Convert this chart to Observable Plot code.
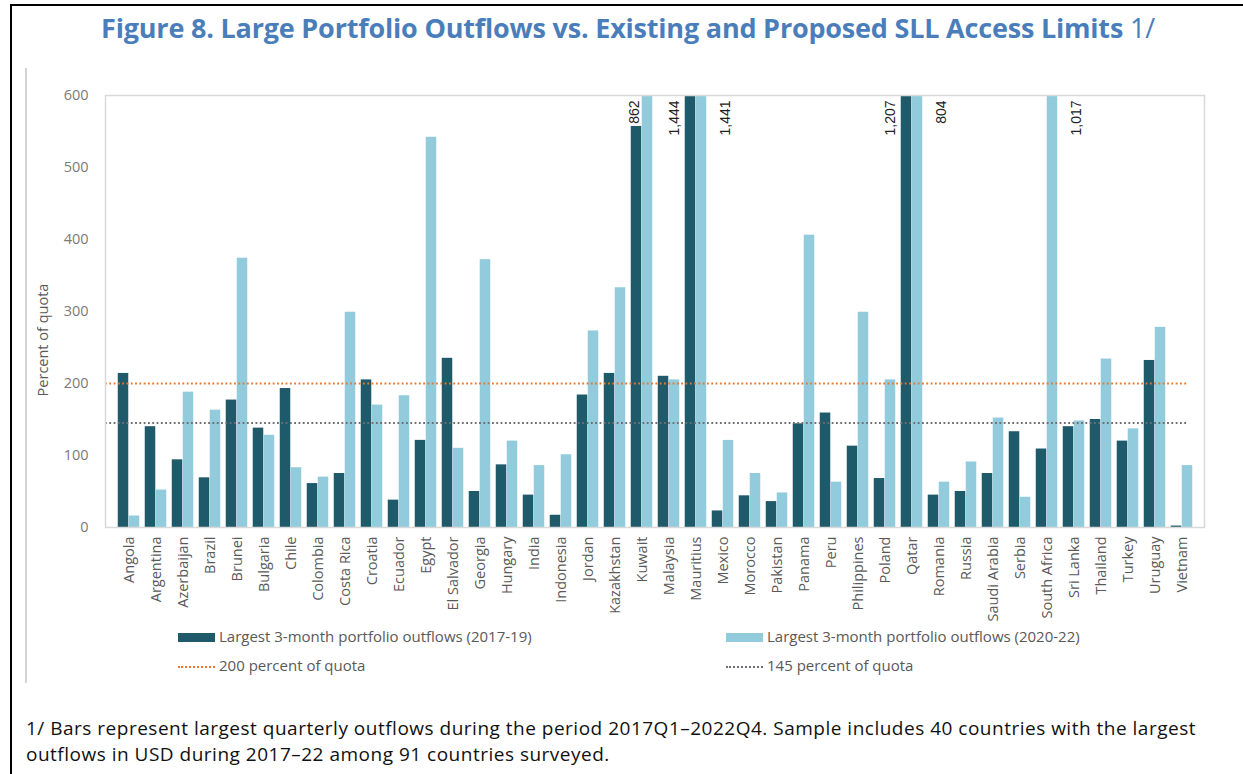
<!DOCTYPE html>
<html>
<head>
<meta charset="utf-8">
<script src="https://cdn.jsdelivr.net/npm/d3@7"></script>
<script src="https://cdn.jsdelivr.net/npm/@observablehq/plot@0.6"></script>
<style>
  html, body { margin: 0; padding: 0; background: #fff; }
  #page { position: relative; width: 1243px; height: 774px; overflow: hidden; font-family: "Open Sans", sans-serif; }
  .frameTop { position: absolute; left: 10px; top: 4px; width: 1240px; height: 2px; background: #000; }
  .frameLeft { position: absolute; left: 10px; top: 4px; width: 2px; height: 780px; background: #000; }
  .grayLeft { position: absolute; left: 25px; top: 68px; width: 2px; height: 615px; background: #d4d4d4; }
  #title { position: absolute; left: 0; width: 1256px; top: 9px; text-align: center; font-family: "Open Sans", sans-serif; font-weight: 700; font-size: 27px; color: #4a7ebb; white-space: nowrap; letter-spacing: -0.2px; }
  #title span { font-weight: 400; }
  #chart { position: absolute; left: 0; top: 0; }
  #ylabel { position: absolute; left: 42px; top: 340px; transform: translate(-50%, -50%) rotate(-90deg); font-size: 14.5px; color: #595959; white-space: nowrap; }
  .leg { position: absolute; font-size: 15px; color: #595959; white-space: nowrap; line-height: 1; }
  .sw { position: absolute; }
  #note { position: absolute; left: 26px; top: 715px; font-size: 19px; letter-spacing: 0.5px; color: #111; line-height: 26px; white-space: nowrap; }
</style>
</head>
<body>
<div id="page">
  <div class="frameTop"></div>
  <div class="frameLeft"></div>
  <div class="grayLeft"></div>
  <div id="title"></div>
  <div id="chart"></div>
  <div id="ylabel"></div>
  <div id="legend"></div>
  <div id="note"></div>
</div>
<script>
// ---------- data ----------
const titleText = "Figure 8. Large Portfolio Outflows vs. Existing and Proposed SLL Access Limits";
const titleNote = "1/";
const countries = ["Angola","Argentina","Azerbaijan","Brazil","Brunei","Bulgaria","Chile","Colombia","Costa Rica","Croatia",
  "Ecuador","Egypt","El Salvador","Georgia","Hungary","India","Indonesia","Jordan","Kazakhstan","Kuwait",
  "Malaysia","Mauritius","Mexico","Morocco","Pakistan","Panama","Peru","Philippines","Poland","Qatar",
  "Romania","Russia","Saudi Arabia","Serbia","South Africa","Sri Lanka","Thailand","Turkey","Uruguay","Vietnam"];
const outflows2017_19 = [214,140,94,69,177,138,193,61,75,205, 38,121,235,50,87,45,17,184,214,557,
  210,1444,23,44,36,144,159,113,68,1207, 45,50,75,133,109,140,150,120,232,2];
const outflows2020_22 = [16,52,188,163,374,128,83,70,299,170, 183,542,110,372,120,86,101,273,333,862,
  205,1441,121,75,48,406,63,299,205,804, 63,91,152,42,1017,148,234,137,278,86];
const seriesNames = ["Largest 3-month portfolio outflows (2017-19)", "Largest 3-month portfolio outflows (2020-22)"];
const limitValues = [200, 145];
const limitNames = ["200 percent of quota", "145 percent of quota"];
const yTicks = [0, 100, 200, 300, 400, 500, 600];
const yLabel = "Percent of quota";
const noteLines = [
  "1/ Bars represent largest quarterly outflows during the period 2017Q1\u20132022Q4. Sample includes 40 countries with the largest",
  "outflows in USD during 2017\u201322 among 91 countries surveyed."
];

// ---------- styles ----------
const darkColor = "#1f5a6a";
const lightColor = "#92cbdc";
const limitColors = ["#e8762d", "#6b6f73"];
const yMax = 600;

// ---------- build ----------
document.getElementById("title").innerHTML = titleText + " <span>" + titleNote + "</span>";
document.getElementById("ylabel").textContent = yLabel;

const rows = countries.map((c, i) => ({country: c, early: outflows2017_19[i], late: outflows2020_22[i]}));
const fmt = d3.format(",");
// labels for bars that run past the top of the axis
const earlyLabels = rows.filter(r => r.early > yMax).map(r => ({country: r.country, text: fmt(r.early)}));
// light-bar labels: placed above the dark bar when it is tall but still below the top, else to the right
const lateOver = rows.filter(r => r.late > yMax && r.early > 500 && r.early <= yMax).map(r => ({country: r.country, text: fmt(r.late)}));
const lateRight = rows.filter(r => r.late > yMax && !(r.early > 500 && r.early <= yMax)).map(r => ({country: r.country, text: fmt(r.late)}));

const labelStyle = {x: "country", y: () => yMax, text: "text", rotate: -90, textAnchor: "end", dy: 5,
  fontSize: 14, fill: "#222", fontFamily: "'Liberation Sans', Arial, sans-serif"};

const W = 1243, H = 640;
const plot = Plot.plot({
  width: W,
  height: H,
  marginLeft: 105,
  marginRight: 39,
  marginTop: 95,
  marginBottom: H - 527,
  style: {fontFamily: "'Open Sans', sans-serif", fontSize: "14.5px", color: "#595959", background: "transparent"},
  x: {domain: countries, padding: 0, label: null},
  y: {domain: [0, yMax], clamp: true, label: null},
  marks: [
    Plot.barY(rows, {x: "country", y: "early", fill: darkColor, insetLeft: 2.75, insetRight: 13.74}),
    Plot.barY(rows, {x: "country", y: "late", fill: lightColor, insetLeft: 13.74, insetRight: 2.75}),
    Plot.ruleY([limitValues[0]], {stroke: limitColors[0], strokeWidth: 2, strokeDasharray: "1.8 2.5", insetRight: 17}),
    Plot.ruleY([limitValues[1]], {stroke: limitColors[1], strokeWidth: 2, strokeDasharray: "1.8 2.5", insetRight: 17}),
    Plot.text(earlyLabels, {...labelStyle, dx: -21}),
    Plot.text(lateOver, {...labelStyle, dx: -7}),
    Plot.text(lateRight, {...labelStyle, dx: 30}),
    Plot.frame({stroke: "#d9d9d9", strokeWidth: 1.5}),
    Plot.axisY({ticks: yTicks, tickSize: 0, tickPadding: 17, fontSize: 14.5, fill: "#7a7a7a", label: null}),
    Plot.axisX({tickSize: 0, tickPadding: 9, tickRotate: -90, fontSize: 14.5, fill: "#595959", label: null})
  ]
});
document.getElementById("chart").appendChild(plot);

// ---------- legend ----------
const legend = document.getElementById("legend");
const legendCols = [178, 726];
const rowTops = [629, 658];
function addText(x, y, t) {
  const d = document.createElement("div");
  d.className = "leg"; d.style.left = x + "px"; d.style.top = y + "px"; d.textContent = t;
  legend.appendChild(d);
}
[darkColor, lightColor].forEach((c, i) => {
  const s = document.createElement("div");
  s.className = "sw";
  Object.assign(s.style, {left: legendCols[i] + "px", top: (rowTops[0] + 4) + "px", width: "37px", height: "9px", background: c});
  legend.appendChild(s);
  addText(legendCols[i] + 41, rowTops[0], seriesNames[i]);
});
limitNames.forEach((n, i) => {
  const s = document.createElement("div");
  s.className = "sw";
  Object.assign(s.style, {left: legendCols[i] + "px", top: (rowTops[1] + 8) + "px", width: "37px", height: "0px",
    borderTop: "2px dotted " + limitColors[i]});
  legend.appendChild(s);
  addText(legendCols[i] + 41, rowTops[1], n);
});

// ---------- note ----------
document.getElementById("note").innerHTML = noteLines.map(l => "<div>" + l + "</div>").join("");
</script>
</body>
</html>
